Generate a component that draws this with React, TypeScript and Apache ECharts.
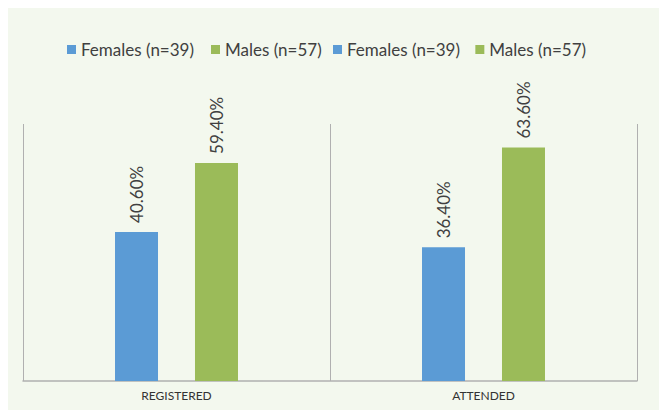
import React, { useEffect, useRef } from "react";
import * as echarts from "echarts";

const categories = ["REGISTERED", "ATTENDED"];
const femaleValues = [40.6, 36.4];
const maleValues = [59.4, 63.6];
const femaleName = "Females (n=39)";
const maleName = "Males (n=57)";

export default function App() {
  const ref = useRef<HTMLDivElement>(null);
  useEffect(() => {
    if (!ref.current) return;
    const chart = echarts.init(ref.current, null, { renderer: "svg" });
    const label = {
      show: true,
      position: "top",
      rotate: 90,
      align: "left",
      verticalAlign: "middle",
      distance: 9,
      fontSize: 17,
      fontFamily: "Lato",
      color: "#404040",
      formatter: (p: any) => p.value.toFixed(2) + "%",
    };
    const legendBase = {
      top: 28,
      itemWidth: 9,
      itemHeight: 9,
      icon: "rect",
      textStyle: { fontSize: 17, fontFamily: "Lato", color: "#404040" },
    };
    chart.setOption({
      animation: false,
      backgroundColor: "#f3f8ee",
      legend: [
        { ...legendBase, left: 54, itemGap: 17, data: [femaleName, maleName] },
        { ...legendBase, left: 320, itemGap: 11, data: [femaleName + " ", maleName + " "] },
      ],
      grid: { left: 15, right: 22, top: 116, bottom: 29 },
      xAxis: {
        type: "category",
        data: categories,
        axisLine: { show: true, lineStyle: { color: "#b0b0b0", width: 1.5 } },
        axisTick: { show: false },
        splitLine: { show: true, lineStyle: { color: "#b0b0b0", width: 1 } },
        axisLabel: { fontSize: 12, fontFamily: "Lato", color: "#333", margin: 8 },
      },
      yAxis: { type: "value", min: 0, max: 70, show: false, splitLine: { show: false } },
      series: [
        { name: femaleName, type: "bar", stack: "f", data: femaleValues, barWidth: 43, barGap: "86%", itemStyle: { color: "#5b9bd5" }, label },
        { name: maleName, type: "bar", stack: "m", data: maleValues, barWidth: 43, barGap: "86%", itemStyle: { color: "#9bbb59" }, label },
        { name: femaleName + " ", type: "bar", stack: "f", data: [], itemStyle: { color: "#5b9bd5" } },
        { name: maleName + " ", type: "bar", stack: "m", data: [], itemStyle: { color: "#9bbb59" } },
      ],
    });
    return () => chart.dispose();
  }, []);
  return (
    <div
      ref={ref}
      style={{ position: "fixed", left: 8, top: 8, width: 651, height: 402 }}
    />
  );
}
